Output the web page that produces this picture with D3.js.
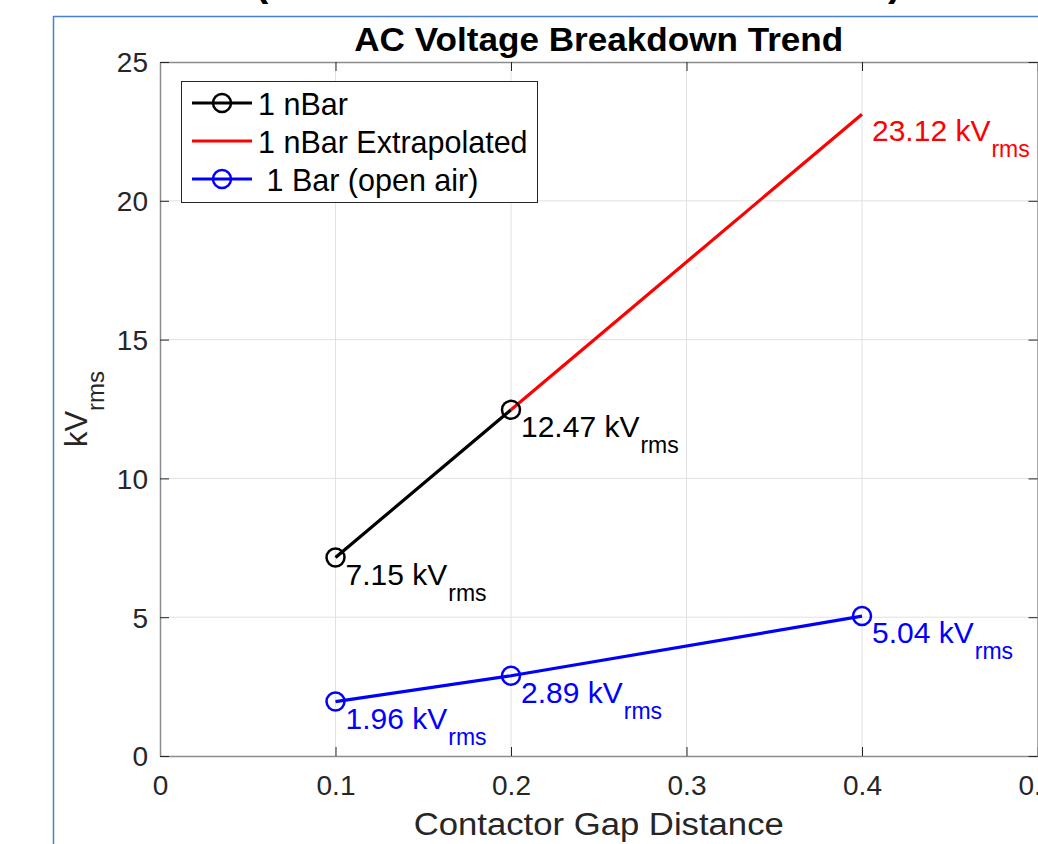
<!DOCTYPE html>
<html>
<head>
<meta charset="utf-8">
<script src="https://cdn.jsdelivr.net/npm/d3@7"></script>
<style>
html,body{margin:0;padding:0;background:#fff;overflow:hidden;}
svg{display:block;font-family:"Liberation Sans",Arial,Helvetica,sans-serif;}
</style>
</head>
<body>
<svg id="chart" width="1038" height="844"></svg>
<script>
// ---- data ----
const nBarX = [0.1, 0.2];
const nBarY = [7.15, 12.47];
const extrapX = [0.2, 0.4];
const extrapY = [12.47, 23.12];
const airX = [0.1, 0.2, 0.4];
const airY = [1.96, 2.89, 5.04];
const xTicks = [0, 0.1, 0.2, 0.3, 0.4, 0.5];
const yTicks = [0, 5, 10, 15, 20, 25];
const seriesNames = ["1 nBar", "1 nBar Extrapolated", " 1 Bar (open air)"];
const seriesColors = ["#000000", "#ff0000", "#0000ff"];
const annotations = [
  {x: 0.1, y: 7.15, label: "7.15 kV", color: "#000000"},
  {x: 0.2, y: 12.47, label: "12.47 kV", color: "#000000"},
  {x: 0.4, y: 23.12, label: "23.12 kV", color: "#ff0000"},
  {x: 0.4, y: 5.04, label: "5.04 kV", color: "#0000ff"},
  {x: 0.2, y: 2.89, label: "2.89 kV", color: "#0000ff"},
  {x: 0.1, y: 1.96, label: "1.96 kV", color: "#0000ff"}
];

const svg = d3.select("#chart");
const L = 160, R = 1037.5, T = 62, B = 756;
const x = d3.scaleLinear().domain([0, 0.5]).range([L, R]);
const y = d3.scaleLinear().domain([0, 25]).range([B, T]);
const axisCol = "#262626";

// outer figure frame (blue) and cut-off title parens
svg.append("line").attr("x1", 53).attr("x2", 1038).attr("y1", 16.5).attr("y2", 16.5)
  .attr("stroke", "#4a7fd4").attr("stroke-width", 1.5);
svg.append("line").attr("x1", 53.5).attr("x2", 53.5).attr("y1", 16).attr("y2", 844)
  .attr("stroke", "#4a7fd4").attr("stroke-width", 1.5);
svg.append("text").attr("x", 255).attr("y", -4).attr("font-size", 40).attr("font-weight", "bold").text("(");
svg.append("text").attr("x", 888).attr("y", -4).attr("font-size", 40).attr("font-weight", "bold").text(")");

// axes background
svg.append("rect").attr("x", L).attr("y", T).attr("width", R - L).attr("height", B - T).attr("fill", "#fff");

// grid
const g = svg.append("g");
g.selectAll(".gx").data(xTicks.slice(1, -1)).enter().append("line")
  .attr("x1", d => x(d)).attr("x2", d => x(d)).attr("y1", T).attr("y2", B)
  .attr("stroke", "#e1e1e1").attr("stroke-width", 1);
g.selectAll(".gy").data(yTicks.slice(1, -1)).enter().append("line")
  .attr("x1", L).attr("x2", R).attr("y1", d => y(d)).attr("y2", d => y(d))
  .attr("stroke", "#e1e1e1").attr("stroke-width", 1);

// axes (box with inward ticks)
const xb = svg.append("g").attr("transform", `translate(0,${B})`)
  .call(d3.axisBottom(x).tickValues(xTicks).tickSizeInner(-9).tickSizeOuter(0).tickPadding(19).tickFormat(d => d === 0 ? "0" : d3.format(".1f")(d)));
const xt = svg.append("g").attr("transform", `translate(0,${T})`)
  .call(d3.axisTop(x).tickValues(xTicks).tickSizeInner(-9).tickSizeOuter(0).tickFormat(""));
const yl = svg.append("g").attr("transform", `translate(${L},0)`)
  .call(d3.axisLeft(y).tickValues(yTicks).tickSizeInner(-9).tickSizeOuter(0).tickPadding(12));
const yr = svg.append("g").attr("transform", `translate(${R},0)`)
  .call(d3.axisRight(y).tickValues(yTicks).tickSizeInner(-9).tickSizeOuter(0).tickFormat(""));
[xb, xt, yl, yr].forEach(a => {
  a.select(".domain").attr("stroke", "#8c8c8c").attr("stroke-width", 1.5);
  a.selectAll(".tick line").attr("stroke", axisCol).attr("stroke-width", 1);
  a.selectAll(".tick text").attr("fill", axisCol).attr("font-size", 28)
    .attr("font-family", '"Liberation Sans",Arial,sans-serif');
});
xb.selectAll(".tick text").attr("dy", "0.71em");
yl.selectAll(".tick text").attr("dy", "0.35em");

// lines
const line = d3.line().x(d => x(d[0])).y(d => y(d[1]));
const plot = svg.append("g");
plot.append("path").datum(nBarX.map((v, i) => [v, nBarY[i]])).attr("d", line)
  .attr("fill", "none").attr("stroke", seriesColors[0]).attr("stroke-width", 3.2);
plot.append("path").datum(extrapX.map((v, i) => [v, extrapY[i]])).attr("d", line)
  .attr("fill", "none").attr("stroke", seriesColors[1]).attr("stroke-width", 3.2);
plot.append("path").datum(airX.map((v, i) => [v, airY[i]])).attr("d", line)
  .attr("fill", "none").attr("stroke", seriesColors[2]).attr("stroke-width", 3.2);

// markers
plot.selectAll(".mk0").data(nBarX.map((v, i) => [v, nBarY[i]])).enter().append("circle")
  .attr("cx", d => x(d[0])).attr("cy", d => y(d[1])).attr("r", 9)
  .attr("fill", "none").attr("stroke", seriesColors[0]).attr("stroke-width", 2.5);
plot.selectAll(".mk2").data(airX.map((v, i) => [v, airY[i]])).enter().append("circle")
  .attr("cx", d => x(d[0])).attr("cy", d => y(d[1])).attr("r", 9)
  .attr("fill", "none").attr("stroke", seriesColors[2]).attr("stroke-width", 2.5);

// annotations
annotations.forEach(a => {
  const t = plot.append("text").attr("x", x(a.x) + 10).attr("y", y(a.y) + 27)
    .attr("fill", a.color).attr("font-size", 30);
  t.append("tspan").text(a.label);
  t.append("tspan").attr("font-size", 23).attr("dy", 16).attr("dx", 1).text("rms");
});

// title
svg.append("text").attr("x", (L + R) / 2).attr("y", 51).attr("text-anchor", "middle")
  .attr("font-size", 34).attr("font-weight", "bold").attr("fill", "#000")
  .attr("textLength", 489).attr("lengthAdjust", "spacingAndGlyphs")
  .text("AC Voltage Breakdown Trend");

// x label
svg.append("text").attr("x", (L + R) / 2).attr("y", 835).attr("text-anchor", "middle")
  .attr("font-size", 31).attr("fill", axisCol)
  .attr("textLength", 370).attr("lengthAdjust", "spacingAndGlyphs")
  .text("Contactor Gap Distance");

// y label
const ylab = svg.append("text").attr("transform", `translate(87,${(T + B) / 2}) rotate(-90)`)
  .attr("text-anchor", "middle").attr("font-size", 31).attr("fill", axisCol);
ylab.append("tspan").text("kV");
ylab.append("tspan").attr("font-size", 24).attr("dy", 17).text("rms");

// legend
const lg = svg.append("g");
lg.append("rect").attr("x", 181.5).attr("y", 81.5).attr("width", 356).attr("height", 121)
  .attr("fill", "#fff").attr("stroke", axisCol).attr("stroke-width", 1);
const rowsY = [103, 141, 179];
seriesNames.forEach((name, i) => {
  lg.append("line").attr("x1", 192).attr("x2", 252).attr("y1", rowsY[i]).attr("y2", rowsY[i])
    .attr("stroke", seriesColors[i]).attr("stroke-width", 3.2);
  if (i !== 1) {
    lg.append("circle").attr("cx", 222).attr("cy", rowsY[i]).attr("r", 9)
      .attr("fill", "none").attr("stroke", seriesColors[i]).attr("stroke-width", 2.5);
  }
  lg.append("text").attr("x", 258).attr("y", rowsY[i] + 12).attr("font-size", 30.5)
    .attr("fill", "#000").attr("xml:space", "preserve").style("white-space", "pre").text(name);
});
</script>
</body>
</html>
